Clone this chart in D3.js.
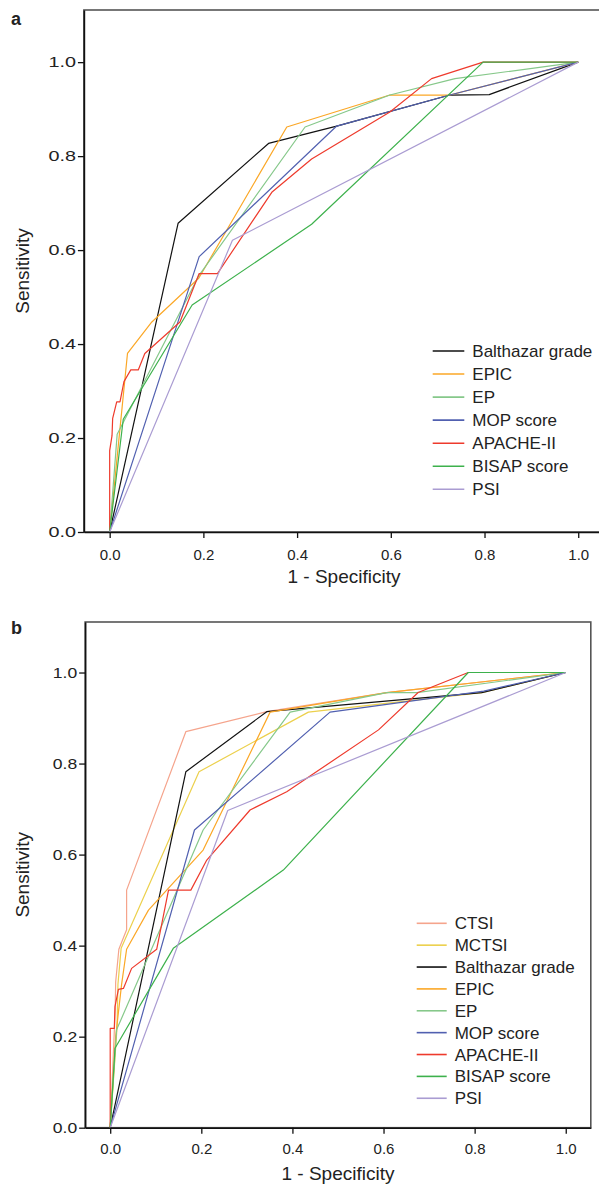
<!DOCTYPE html>
<html><head><meta charset="utf-8">
<script src="https://cdn.jsdelivr.net/npm/d3@7"></script>
<style>body{margin:0;background:#fff}svg{display:block}</style>
</head><body>
<svg id="c" width="599" height="1184"></svg>
<script>
// ---------- data ----------
const xTicks = [0, 0.2, 0.4, 0.6, 0.8, 1.0];
const yTicks = [0, 0.2, 0.4, 0.6, 0.8, 1.0];
const xTitle = "1 - Specificity";
const yTitle = "Sensitivity";

const seriesA = ["Balthazar grade", "EPIC", "EP", "MOP score", "APACHE-II", "BISAP score", "PSI"];
const seriesB = ["CTSI", "MCTSI", "Balthazar grade", "EPIC", "EP", "MOP score", "APACHE-II", "BISAP score", "PSI"];

const colorOf = {
  "CTSI": "#f5a48c",
  "MCTSI": "#ecd04c",
  "Balthazar grade": "#111111",
  "EPIC": "#fba726",
  "EP": "#86c88a",
  "MOP score": "#5160b0",
  "APACHE-II": "#ee3a2c",
  "BISAP score": "#3db14c",
  "PSI": "#aa9cd2"
};

// panel a: [1 - specificity, sensitivity]
const aBalthazar = [[0,0],[0.146,0.657],[0.339,0.827],[0.4845,0.864],[0.726,0.93],[0.81,0.931],[1,1]];
const aEPIC = [[0,0],[0.038,0.38],[0.09,0.447],[0.19,0.54],[0.378,0.862],[0.598,0.93],[0.726,0.93],[1,1]];
const aEP = [[0,0],[0.016,0.208],[0.19,0.545],[0.417,0.862],[0.598,0.93],[0.737,0.965],[1,1]];
const aMOP = [[0,0],[0.191,0.586],[0.4845,0.864],[0.726,0.93],[1,1]];
const aAPACHE = [[0,0],[0,0.173],[0.005,0.205],[0.0064,0.242],[0.015,0.277],[0.022,0.277],[0.0305,0.32],[0.045,0.345],[0.061,0.345],[0.075,0.38],[0.15,0.447],[0.191,0.55],[0.23,0.55],[0.346,0.723],[0.431,0.794],[0.598,0.894],[0.687,0.965],[0.797,1],[1,1]];
const aBISAP = [[0,0],[0.029,0.24],[0.176,0.483],[0.431,0.655],[0.797,1],[1,1]];
const aPSI = [[0,0],[0.262,0.621],[1,1]];

// panel b
const bCTSI = [[0,0],[0.011,0.26],[0.012,0.32],[0.019,0.392],[0.036,0.435],[0.036,0.522],[0.166,0.87],[0.3436,0.914],[0.607,0.956],[1,1]];
const bMCTSI = [[0,0],[0.015,0.22],[0.017,0.315],[0.024,0.394],[0.195,0.782],[0.435,0.913],[0.8156,0.956],[1,1]];
const bBalthazar = [[0,0],[0.166,0.782],[0.3436,0.914],[0.8156,0.956],[1,1]];
const bEPIC = [[0,0],[0.012,0.2],[0.025,0.315],[0.036,0.392],[0.084,0.478],[0.204,0.61],[0.351,0.913],[0.607,0.956],[1,1]];
const bEP = [[0,0],[0.014,0.215],[0.204,0.654],[0.395,0.913],[0.607,0.956],[0.673,0.956],[1,1]];
const bMOP = [[0,0],[0.185,0.654],[0.4825,0.913],[0.82,0.959],[1,1]];
const bAPACHE = [[0,0],[0,0.218],[0.009,0.218],[0.0105,0.266],[0.018,0.304],[0.029,0.306],[0.047,0.35],[0.102,0.392],[0.128,0.522],[0.177,0.522],[0.212,0.588],[0.307,0.698],[0.3875,0.738],[0.589,0.874],[0.676,0.956],[0.786,1],[1,1]];
const bBISAP = [[0,0],[0.0105,0.1745],[0.1385,0.394],[0.38,0.566],[0.786,1],[1,1]];
const bPSI = [[0,0],[0.258,0.697],[1,1]];

const dataA = {"Balthazar grade": aBalthazar, "EPIC": aEPIC, "EP": aEP, "MOP score": aMOP, "APACHE-II": aAPACHE, "BISAP score": aBISAP, "PSI": aPSI};
const dataB = {"CTSI": bCTSI, "MCTSI": bMCTSI, "Balthazar grade": bBalthazar, "EPIC": bEPIC, "EP": bEP, "MOP score": bMOP, "APACHE-II": bAPACHE, "BISAP score": bBISAP, "PSI": bPSI};

// ---------- drawing ----------
const svg = d3.select("#c");
const FONT = "'Liberation Sans', Arial, Helvetica, sans-serif";

function panel(cfg) {
  const x = d3.scaleLinear().domain([-0.055, 1.055]).range([cfg.left, cfg.right]);
  const y = d3.scaleLinear().domain([0, 1.111]).range([cfg.bottom, cfg.top]);
  const g = svg.append("g");

  // frame
  g.append("rect")
    .attr("x", cfg.left).attr("y", cfg.top)
    .attr("width", cfg.right - cfg.left).attr("height", cfg.bottom - cfg.top)
    .attr("fill", "none").attr("stroke", "#555").attr("stroke-width", 1.6);

  // lines
  const line = d3.line().x(d => x(d[0])).y(d => y(d[1]));
  cfg.series.forEach(name => {
    g.append("path").datum(cfg.data[name])
      .attr("d", line).attr("fill", "none")
      .attr("stroke", colorOf[name]).attr("stroke-width", 1.2)
      .attr("stroke-linejoin", "round");
  });

  // axes
  const xa = g.append("g").attr("transform", `translate(0,${cfg.bottom})`)
    .call(d3.axisBottom(x).tickValues(xTicks).tickFormat(d3.format(".1f"))
      .tickSize(6).tickSizeOuter(0).tickPadding(cfg.xPad));
  const ya = g.append("g").attr("transform", `translate(${cfg.left},0)`)
    .call(d3.axisLeft(y).tickValues(yTicks).tickFormat(d3.format(".1f"))
      .tickSize(6).tickSizeOuter(0).tickPadding(2));
  [xa, ya].forEach(a => {
    a.select(".domain").attr("stroke", "#111").attr("stroke-width", 1.6);
    a.selectAll(".tick line").attr("stroke", "#111").attr("stroke-width", 1.3);
    a.selectAll("text").attr("font-family", FONT).attr("font-size", 15).attr("fill", "#222");
  });
  // y tick labels are horizontally widened in the reference
  ya.selectAll(".tick text").attr("x", 0)
    .attr("transform", `translate(-8,0) scale(${cfg.yLabScale},1)`);

  // titles
  g.append("text").attr("x", (cfg.left + cfg.right) / 2).attr("y", cfg.xTitleY)
    .attr("text-anchor", "middle").attr("font-family", FONT).attr("font-size", 19)
    .attr("fill", "#222").text(xTitle);
  g.append("text").attr("transform", `translate(${cfg.yTitleX},${(cfg.top + cfg.bottom) / 2}) rotate(-90)`)
    .attr("text-anchor", "middle").attr("font-family", FONT).attr("font-size", 19)
    .attr("fill", "#222").text(yTitle);
  g.append("text").attr("x", 11).attr("y", cfg.letterY)
    .attr("font-family", FONT).attr("font-size", 18).attr("font-weight", "bold")
    .attr("fill", "#222").text(cfg.letter);

  // legend
  cfg.series.forEach((name, i) => {
    const cy = cfg.legY + i * cfg.legStep;
    g.append("line").attr("x1", cfg.legX).attr("x2", cfg.legX + cfg.legLen)
      .attr("y1", cy).attr("y2", cy)
      .attr("stroke", colorOf[name]).attr("stroke-width", 1.6);
    g.append("text").attr("x", cfg.legX + cfg.legLen + 8).attr("y", cy + 6)
      .attr("font-family", FONT).attr("font-size", 17).attr("fill", "#222").text(name);
  });
}

panel({
  left: 83.9, right: 604, top: 10, bottom: 532,
  xPad: 11, yLabScale: 1.32, xTitleY: 583, yTitleX: 29, letter: "a", letterY: 25,
  series: seriesA, data: dataA,
  legX: 432.7, legLen: 31.6, legY: 351, legStep: 23.05
});
panel({
  left: 85.15, right: 590.8, top: 622, bottom: 1127.7,
  xPad: 9.5, yLabScale: 1.17, xTitleY: 1180, yTitleX: 29, letter: "b", letterY: 634,
  series: seriesB, data: dataB,
  legX: 416.7, legLen: 30, legY: 923.3, legStep: 21.87
});
</script>
</body></html>
